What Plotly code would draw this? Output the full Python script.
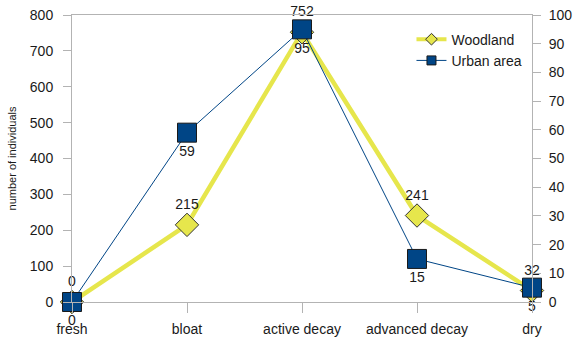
import plotly.graph_objects as go

stages = ["fresh", "bloat", "active decay", "advanced decay", "dry"]
woodland = [0, 215, 752, 241, 32]
urban = [0, 59, 95, 15, 5]

left_ticks = list(range(0, 801, 100))
right_ticks = list(range(0, 101, 10))

FONT = "Liberation Sans, Arial, sans-serif"
TXT = "#1a1a1a"
AXIS = "#b3b3b3"
YELLOW = "#e6e64c"
BLUE = "#004586"

fig = go.Figure()

# Woodland counts on the left axis
fig.add_trace(go.Scatter(
    x=stages, y=woodland, name="Woodland", yaxis="y",
    mode="lines+markers+text", showlegend=False, legendgroup="w",
    line=dict(color=YELLOW, width=4.5),
    marker=dict(symbol="diamond", size=18, color=YELLOW,
                line=dict(color="#333333", width=1)),
    text=[str(v) for v in woodland], textposition="top center",
    textfont=dict(family=FONT, size=14, color=TXT),
    cliponaxis=False,
))

# Urban counts on the right axis
fig.add_trace(go.Scatter(
    x=stages, y=urban, name="Urban area", yaxis="y2",
    mode="lines+markers+text", showlegend=False, legendgroup="u",
    line=dict(color=BLUE, width=1),
    marker=dict(symbol="square", size=19, color=BLUE,
                line=dict(color="#1a1a1a", width=1)),
    text=[str(v) for v in urban], textposition="bottom center",
    textfont=dict(family=FONT, size=14, color=TXT),
    cliponaxis=False,
))

# legend entries with compact symbols
fig.add_trace(go.Scatter(
    x=[None], y=[None], name="Woodland", legendgroup="w",
    mode="lines+markers",
    line=dict(color=YELLOW, width=4),
    marker=dict(symbol="diamond", size=9, color=YELLOW,
                line=dict(color="#333333", width=1)),
))
fig.add_trace(go.Scatter(
    x=[None], y=[None], name="Urban area", legendgroup="u", yaxis="y2",
    mode="lines+markers",
    line=dict(color=BLUE, width=1),
    marker=dict(symbol="square", size=9, color=BLUE,
                line=dict(color="#1a1a1a", width=1)),
))

fig.update_layout(
    width=577, height=343,
    margin=dict(l=72, r=45, t=15, b=41, autoexpand=False),
    paper_bgcolor="white", plot_bgcolor="white",
    font=dict(family=FONT, size=14, color=TXT),
    showlegend=True,
    legend=dict(x=0.738, y=0.97, xanchor="left", yanchor="top",
                bgcolor="rgba(0,0,0,0)", font=dict(size=14),
                tracegroupgap=0, itemwidth=30),
    xaxis=dict(
        type="category", categoryorder="array", categoryarray=stages,
        range=[0, 4], showgrid=False, zeroline=False, automargin=False,
        showline=True, linecolor=AXIS, linewidth=1, mirror=True,
        ticks="outside", ticklen=10, tickcolor=AXIS,
        ticklabelstandoff=4,
        tickfont=dict(size=14, color=TXT),
    ),
    yaxis=dict(
        range=[0, 800], tickvals=left_ticks, showgrid=False, zeroline=False,
        automargin=False,
        showline=True, linecolor=AXIS, linewidth=1,
        ticks="outside", ticklen=8, tickcolor=AXIS,
        ticklabelstandoff=7,
        tickfont=dict(size=14, color=TXT),
        title=dict(text="number of individuals", font=dict(size=11, color=TXT),
                   standoff=10),
    ),
    yaxis2=dict(
        range=[0, 100], tickvals=right_ticks, overlaying="y", side="right",
        showgrid=False, zeroline=False, automargin=False,
        showline=True, linecolor=AXIS, linewidth=1,
        ticks="outside", ticklen=8, tickcolor=AXIS,
        ticklabelstandoff=5,
        tickfont=dict(size=14, color=TXT),
    ),
)

fig.write_html("out.html")
